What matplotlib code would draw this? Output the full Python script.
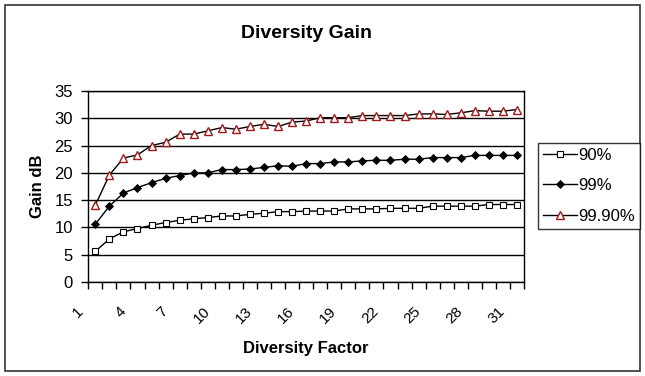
import numpy as np
import matplotlib
matplotlib.use("Agg")
import matplotlib.pyplot as plt
from matplotlib.patches import Rectangle
from matplotlib.transforms import ScaledTranslation

plt.rcParams['font.family'] = ['Liberation Sans', 'DejaVu Sans']

# diversity gain in dB against the diversity factor (1..31)
factor = np.arange(1, 32)
gain_90 = [5.6, 7.9, 9.2, 9.8, 10.4, 10.9, 11.3, 11.6, 11.8, 12.1, 12.1,
           12.4, 12.6, 12.9, 12.9, 13.0, 13.0, 13.0, 13.4, 13.4, 13.4,
           13.5, 13.5, 13.5, 13.9, 13.9, 13.9, 13.9, 14.2, 14.2, 14.2]
gain_99 = [10.6, 13.9, 16.3, 17.3, 18.2, 19.0, 19.5, 20.0, 20.0, 20.6, 20.6,
           20.7, 21.0, 21.3, 21.2, 21.7, 21.7, 22.0, 22.0, 22.2, 22.3,
           22.3, 22.5, 22.5, 22.8, 22.8, 22.8, 23.2, 23.2, 23.2, 23.2]
gain_999 = [14.1, 19.6, 22.7, 23.3, 25.0, 25.6, 27.1, 27.1, 27.7, 28.3, 28.0,
            28.5, 28.9, 28.5, 29.3, 29.5, 30.1, 30.1, 30.1, 30.5, 30.5,
            30.5, 30.5, 30.8, 30.8, 30.7, 31.0, 31.4, 31.3, 31.3, 31.6]
series_labels = ['90%', '99%', '99.90%']
tick_cats = factor[::3]

W, H = 645, 376
fig = plt.figure(figsize=(W / 100, H / 100), dpi=100)
ax = fig.add_axes([88.3 / W, 1 - 282 / H, (524 - 88.3) / W, (282 - 91) / H])

l1, = ax.plot(factor, gain_90, color='black', lw=1, marker='s', ms=3.8,
              mfc='white', mec='black', mew=0.8)
l2, = ax.plot(factor, gain_99, color='black', lw=1, marker='D', ms=3.6,
              mfc='black', mec='black', mew=0.6)
l3, = ax.plot(factor, gain_999, color='black', lw=1, marker='^', ms=5.5,
              mfc='white', mec='#a01818', mew=1.0)

ax.set_xlim(0.5, 31.5)
ax.set_ylim(0, 35)
ax.set_yticks(np.arange(0, 36, 5))
ax.yaxis.grid(True, color='black', lw=1)
ax.set_axisbelow(True)
for s in ax.spines.values():
    s.set_color('black')
    s.set_linewidth(1)

# tick marks between categories, labels on every third category
ax.set_xticks(np.arange(0.5, 32, 1))
ax.set_xticklabels([])
ax.set_xticks(tick_cats, minor=True)
ax.set_xticklabels([str(c) for c in tick_cats], minor=True, rotation=45,
                   ha='right', va='top', fontsize=11)
ax.tick_params(axis='x', which='major', length=5, width=1, direction='out')
ax.tick_params(axis='x', which='minor', length=0, pad=16)
ax.tick_params(axis='y', length=5, width=1, direction='out', pad=6,
               labelsize=12)
shift = ScaledTranslation(-9 / 100, 0, fig.dpi_scale_trans)
for lbl in ax.get_xticklabels(minor=True):
    lbl.set_transform(lbl.get_transform() + shift)

ax.set_title('Diversity Gain', fontsize=14, fontweight='bold', pad=38)
ax.set_xlabel('Diversity Factor', fontsize=12, fontweight='bold', labelpad=11)
ax.set_ylabel('Gain dB', fontsize=12, fontweight='bold', labelpad=7)

leg = fig.legend([l1, l2, l3], series_labels, loc='upper left',
                 bbox_to_anchor=(538.3 / W, 1 - 142.7 / H), borderaxespad=0,
                 fontsize=12, frameon=True, fancybox=False, edgecolor='black',
                 handlelength=2.0, handletextpad=0.1, labelspacing=0.93,
                 borderpad=0.3)
leg.get_frame().set_linewidth(1)

# chart area border
fig.patches.append(Rectangle((5 / W, 5 / H), (640 - 5) / W, (371 - 5) / H,
                             transform=fig.transFigure, fill=False,
                             edgecolor='#333333', lw=1.2))

fig.savefig('out.png', dpi=100)
